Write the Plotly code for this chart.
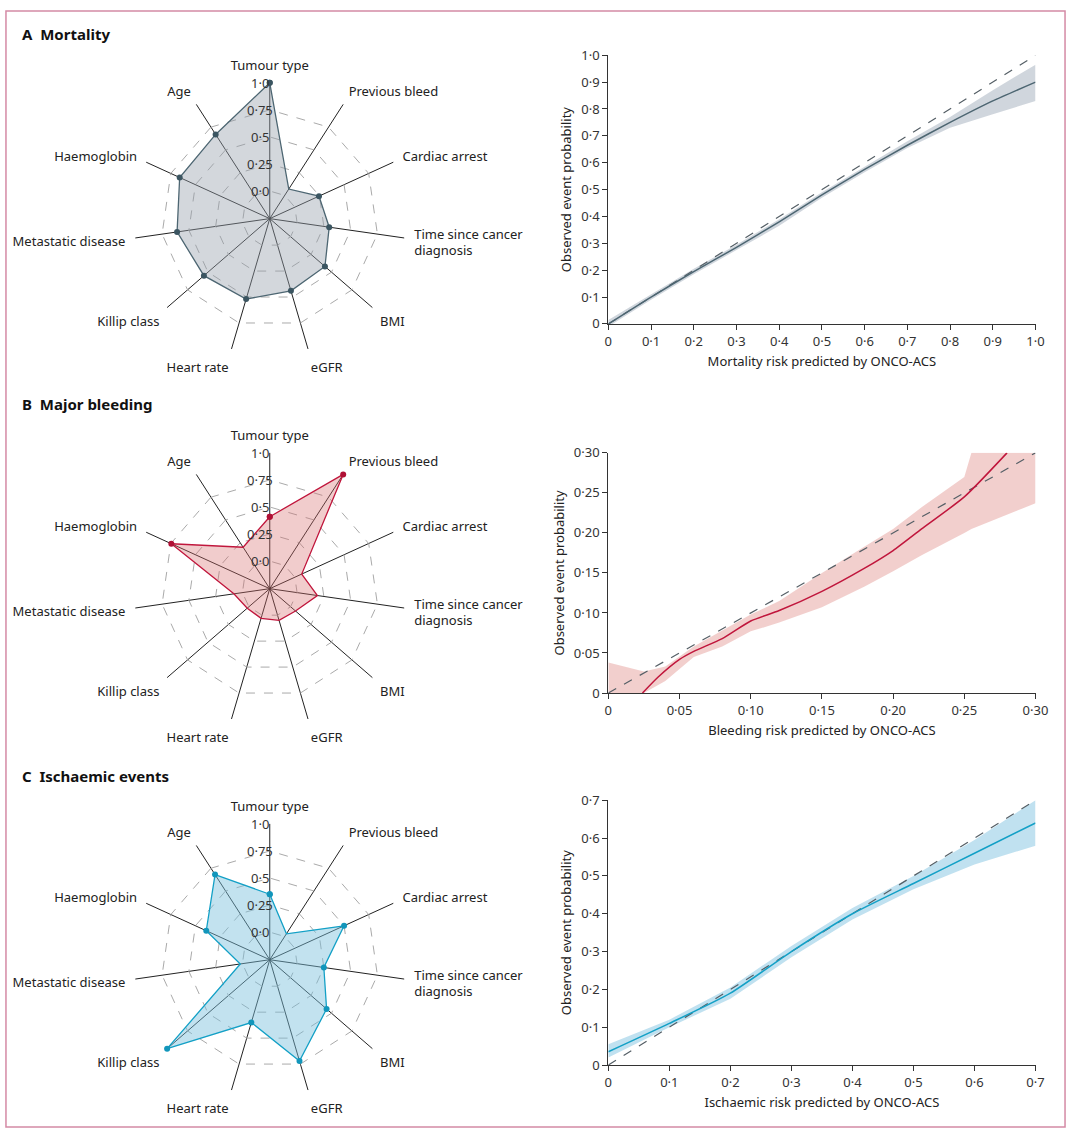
import plotly.graph_objects as go

W, H = 1080, 1138
cats = ["Tumour type", "Previous bleed", "Cardiac arrest", "Time since cancer<br>diagnosis", "BMI",
        "eGFR", "Heart rate", "Killip class", "Metastatic disease", "Haemoglobin", "Age"]
rad_mort = [1.0, 0.07, 0.245, 0.30, 0.42, 0.44, 0.52, 0.55, 0.61, 0.66, 0.67]
rad_bleed = [0.41, 1.0, 0.07, 0.19, 0.06, 0.05, 0.03, 0.02, 0.08, 0.745, 0.20]
rad_isch = [0.35, 0.03, 0.50, 0.25, 0.44, 0.72, 0.35, 1.0, 0.02, 0.39, 0.68]
rad_ticks = [0, 0.25, 0.5, 0.75, 1.0]
rad_text = ["0·0", "0·25", "0·5", "0·75", "1·0"]

mort_x = [0, 0.1, 0.2, 0.3, 0.4, 0.5, 0.6, 0.7, 0.8, 0.9, 1.0]
mort_y = [0.0, 0.10, 0.195, 0.285, 0.38, 0.48, 0.575, 0.665, 0.75, 0.83, 0.90]
mort_lo = [-0.01, 0.09, 0.185, 0.275, 0.365, 0.47, 0.565, 0.655, 0.73, 0.78, 0.83]
mort_hi = [0.015, 0.11, 0.205, 0.295, 0.39, 0.49, 0.585, 0.68, 0.77, 0.87, 0.965]

bl_x = [0.024, 0.035, 0.05, 0.06, 0.08, 0.10, 0.12, 0.15, 0.18, 0.20, 0.22, 0.25, 0.28]
bl_y = [0.0, 0.02, 0.042, 0.052, 0.068, 0.09, 0.103, 0.127, 0.156, 0.178, 0.205, 0.245, 0.30]
bl_band_x = [0, 0.025, 0.04, 0.06, 0.08, 0.10, 0.12, 0.15, 0.18, 0.20, 0.22, 0.25, 0.255, 0.30]
bl_hi = [0.038, 0.027, 0.033, 0.058, 0.078, 0.098, 0.115, 0.15, 0.183, 0.205, 0.232, 0.27, 0.30, 0.30]
bl_lo = [0, 0, 0.015, 0.045, 0.058, 0.077, 0.088, 0.107, 0.133, 0.152, 0.172, 0.20, 0.205, 0.237]

is_x = [0, 0.1, 0.2, 0.3, 0.4, 0.5, 0.6, 0.7]
is_y = [0.035, 0.11, 0.19, 0.30, 0.40, 0.48, 0.56, 0.64]
is_lo = [0.02, 0.10, 0.175, 0.285, 0.385, 0.465, 0.53, 0.58]
is_hi = [0.055, 0.12, 0.205, 0.315, 0.415, 0.50, 0.595, 0.70]

panels = [
    dict(title="<b>A</b>  <b>Mortality</b>", r=rad_mort, line="#4d6672", mk="#3b5561",
         fill="rgba(150,160,172,0.42)", bandc="rgba(150,165,180,0.45)", cy=213,
         x=mort_x, y=mort_y, bx=mort_x, lo=mort_lo, hi=mort_hi, rng=1.0,
         ticks=[0, 0.1, 0.2, 0.3, 0.4, 0.5, 0.6, 0.7, 0.8, 0.9, 1.0],
         ttext=["0", "0·1", "0·2", "0·3", "0·4", "0·5", "0·6", "0·7", "0·8", "0·9", "1·0"],
         yt=[47, 320], xlab="Mortality risk predicted by ONCO-ACS"),
    dict(title="<b>B</b>  <b>Major bleeding</b>", r=rad_bleed, line="#c0163c", mk="#b01035",
         fill="rgba(215,110,110,0.35)", bandc="rgba(225,140,135,0.42)", cy=589,
         x=bl_x, y=bl_y, bx=bl_band_x, lo=bl_lo, hi=bl_hi, rng=0.30,
         ticks=[0, 0.05, 0.10, 0.15, 0.20, 0.25, 0.30],
         ttext=["0", "0·05", "0·10", "0·15", "0·20", "0·25", "0·30"],
         yt=[451, 695], xlab="Bleeding risk predicted by ONCO-ACS"),
    dict(title="<b>C</b>  <b>Ischaemic events</b>", r=rad_isch, line="#13a0c6", mk="#1296bb",
         fill="rgba(120,190,220,0.45)", bandc="rgba(130,195,225,0.5)", cy=966,
         x=is_x, y=is_y, bx=is_x, lo=is_lo, hi=is_hi, rng=0.7,
         ticks=[0, 0.1, 0.2, 0.3, 0.4, 0.5, 0.6, 0.7],
         ttext=["0", "0·1", "0·2", "0·3", "0·4", "0·5", "0·6", "0·7"],
         yt=[804, 1073], xlab="Ischaemic risk predicted by ONCO-ACS"),
]

fig = go.Figure()
FONT = "Noto Sans"
titles_y = [25, 401, 779]
R = 138
CX = 270
x0p, x1p = 614 / W, 1048 / W
for i, p in enumerate(panels):
    k = "" if i == 0 else str(i + 1)
    pol = "polar" + k
    rr = p["r"] + [p["r"][0]]
    cc = cats + [cats[0]]
    fig.add_trace(go.Scatterpolar(r=rr, theta=cc, mode="lines+markers", fill="toself",
                                  fillcolor=p["fill"], line=dict(color=p["line"], width=1.3),
                                  marker=dict(color=p["mk"], size=6), subplot=pol, showlegend=False))
    cy = p["cy"]
    fig.update_layout(**{pol: dict(
        domain=dict(x=[(CX - R) / W, (CX + R) / W], y=[(H - cy - R) / H, (H - cy + R) / H]),
        gridshape="linear", bgcolor="rgba(0,0,0,0)",
        angularaxis=dict(rotation=90, direction="clockwise", gridcolor="#222", gridwidth=1.3,
                         showline=False, ticks="outside", ticklen=7, tickcolor="rgba(0,0,0,0)",
                         tickfont=dict(size=13, color="#222", family=FONT)),
        radialaxis=dict(range=[-0.255, 1.0], angle=90, tickvals=rad_ticks, showticklabels=False,
                        showline=False, ticks="",
                        griddash="dash", gridcolor="#aaaaaa", gridwidth=1),
    )})
    for v, t in zip(rad_ticks, rad_text):
        ypx = cy - R * (v + 0.255) / 1.255
        fig.add_annotation(x=(CX - 10) / W, y=1 - ypx / H, xref="paper", yref="paper", text=t,
                           showarrow=False, xanchor="center", yanchor="middle",
                           font=dict(size=13, color="#333", family=FONT))
    xa = "x" + k
    ya = "y" + k
    bx = p["bx"]
    fig.add_trace(go.Scatter(x=bx + bx[::-1], y=p["hi"] + p["lo"][::-1], fill="toself",
                             fillcolor=p["bandc"], line=dict(width=0), mode="lines",
                             xaxis=xa, yaxis=ya, showlegend=False, hoverinfo="skip"))
    fig.add_trace(go.Scatter(x=[0, p["rng"]], y=[0, p["rng"]], mode="lines",
                             line=dict(color="#555f66", width=1.2, dash="dash"),
                             xaxis=xa, yaxis=ya, showlegend=False))
    fig.add_trace(go.Scatter(x=p["x"], y=p["y"], mode="lines", line=dict(color=p["line"], width=1.5, shape="spline", smoothing=0.6),
                             xaxis=xa, yaxis=ya, showlegend=False))
    ax = dict(showgrid=False, zeroline=False, showline=True, linecolor="#333", linewidth=1.2,
              ticks="outside", ticklen=5, tickcolor="#333", tickfont=dict(size=13, color="#333", family=FONT))
    fig.update_layout(**{
        "xaxis" + k: dict(ax, domain=[x0p, x1p], range=[0, p["rng"]], tickvals=p["ticks"], ticktext=p["ttext"],
                          anchor=ya, title=dict(text=p["xlab"], font=dict(size=13, color="#222", family=FONT), standoff=8)),
        "yaxis" + k: dict(ax, domain=[(H - p["yt"][1]) / H, (H - p["yt"][0]) / H], range=[0, p["rng"]],
                          tickvals=p["ticks"], ticktext=p["ttext"], anchor=xa,
                          title=dict(text="Observed event probability", font=dict(size=13, color="#222", family=FONT), standoff=6)),
    })
    fig.add_annotation(x=16 / W, y=1 - titles_y[i] / H, xref="paper", yref="paper", text=p["title"],
                       showarrow=False, xanchor="left", yanchor="middle", font=dict(size=15, color="#111", family=FONT))

fig.add_shape(type="rect", xref="paper", yref="paper", x0=2 / W, x1=1 - 2 / W, y0=2 / H, y1=1 - 2 / H,
              line=dict(color="#d48aa5", width=1.5))
fig.update_layout(autosize=True, margin=dict(l=0, r=0, t=0, b=0), paper_bgcolor="white",
                  plot_bgcolor="white", font=dict(family=FONT))
fig.write_html("out.html", config={"responsive": True, "displayModeBar": False},
               default_width="100vw", default_height="100vh",
               post_script="document.body.style.margin='0';document.body.style.overflow='hidden';")
